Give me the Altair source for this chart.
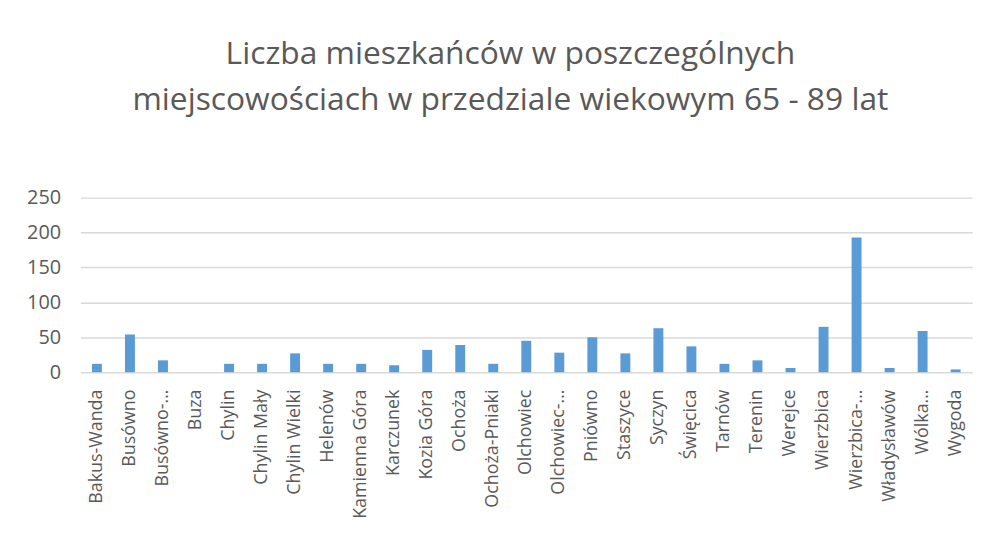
import altair as alt
import pandas as pd

places = ["Bakus-Wanda", "Busówno", "Busówno-…", "Buza", "Chylin", "Chylin Mały",
          "Chylin Wielki", "Helenów", "Kamienna Góra", "Karczunek", "Kozia Góra",
          "Ochoża", "Ochoża-Pniaki", "Olchowiec", "Olchowiec-…", "Pniówno",
          "Staszyce", "Syczyn", "Święcica", "Tarnów", "Terenin", "Werejce",
          "Wierzbica", "Wierzbica-…", "Władysławów", "Wólka…", "Wygoda"]
residents = [12, 54, 17, 0, 12, 12, 27, 12, 12, 10, 32, 39, 12, 45, 28, 50,
             27, 63, 37, 12, 17, 6, 65, 193, 6, 59, 4]
y_ticks = [0, 50, 100, 150, 200, 250]

df = pd.DataFrame({"place": places, "n": residents})

FONT = "Open Sans"
GREY = "#595959"

chart = alt.Chart(df).mark_bar(color="#5B9BD5").encode(
    x=alt.X("place:N", sort=places, title=None,
            scale=alt.Scale(paddingInner=0.7, paddingOuter=0.35),
            axis=alt.Axis(labelAngle=-90, labelFontSize=18, labelColor=GREY,
                          labelFont=FONT, domain=False, ticks=False,
                          labelPadding=17, labelLimit=200)),
    y=alt.Y("n:Q", title=None,
            scale=alt.Scale(domain=[0, 250], nice=False),
            axis=alt.Axis(values=y_ticks, labelFontSize=20, labelColor=GREY,
                          labelFont=FONT, domain=False, ticks=False,
                          labelPadding=20, gridColor="#D9D9D9", gridWidth=1.5)),
).properties(
    width=899, height=176,
    autosize=alt.AutoSizeParams(type="none"),
    padding={"left": 73, "top": 189, "right": 20, "bottom": 170},
    title=alt.TitleParams(
        ["Liczba mieszkańców w poszczególnych",
         "miejscowościach w przedziale wiekowym 65 - 89 lat"],
        fontSize=32, font=FONT, fontWeight="normal", color=GREY,
        lineHeight=47, anchor="middle", dx=-16, offset=71),
).configure_view(stroke=None)

chart.save("out.html", embed_options={"renderer": "svg", "actions": False})
